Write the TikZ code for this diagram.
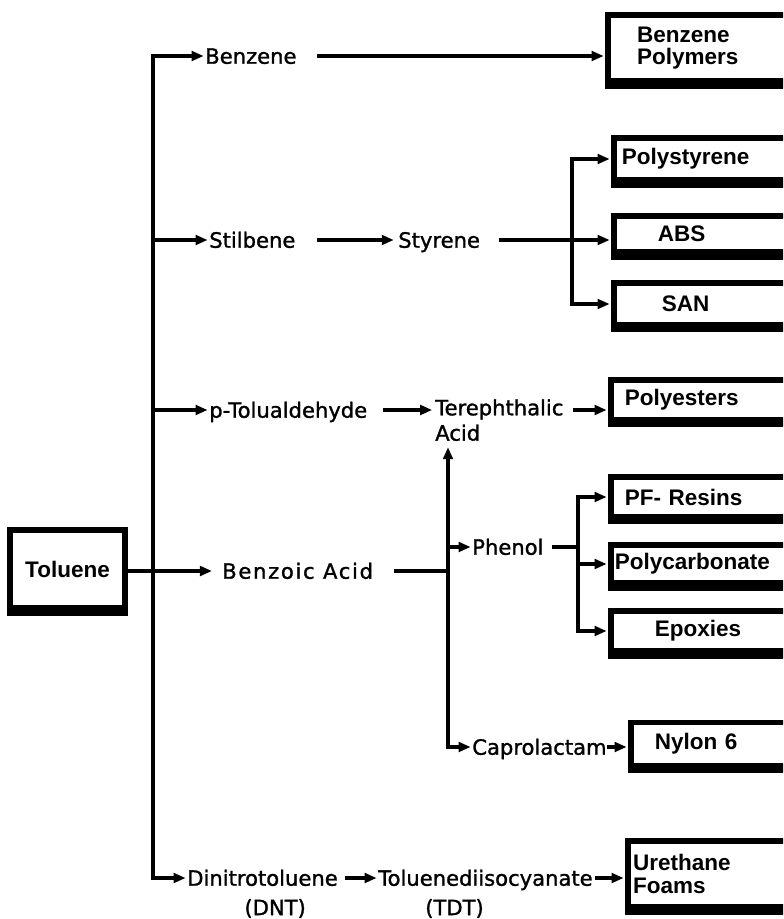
\documentclass[tikz,border=0pt]{standalone}
\usepackage{fontspec}
\setmainfont{DejaVu Sans}
\newfontfamily\flowfont{DejaVu Sans}[FakeBold=1.3]
\newfontfamily\prodfont{Liberation Sans Bold}
\usepackage{tikz}
\usetikzlibrary{positioning, arrows.meta, calc}

\begin{document}
\begin{tikzpicture}[x=0.025cm, y=-0.025cm,
  chem/.style={font=\flowfont\fontsize{15}{18}\selectfont, inner sep=0pt, anchor=west,
               text height=11pt, text depth=0pt},
  prod/.style={draw, line width=0.14cm, fill=white, anchor=west, text width=4.5cm,
               align=left, inner ysep=0pt, font=\prodfont\fontsize{16}{16}\selectfont},
  flow/.style={line width=0.08cm, line cap=rect, shorten >=1pt,
               -{Triangle[length=0.3cm, width=0.24cm]}},
  link/.style={line width=0.08cm, line cap=rect}]
  \useasboundingbox (0,0) rectangle (783,919);
  \clip (0,0) rectangle (783,919);
  % start box
  \node[prod, text width=2.4cm, minimum width=2.885cm, minimum height=1.96cm, align=center] (tol) at (7,569) {Toluene};
  % end products
  \node[prod, minimum height=1.66cm, inner xsep=0.73cm] (bp) at (605,48) {Benzene\\Polymers};
  \node[prod, minimum height=1.06cm, inner xsep=0.2cm] (ps) at (611,159) {Polystyrene};
  \node[prod, minimum height=0.91cm, inner xsep=1.1cm] (abs) at (611,234) {ABS};
  \node[prod, minimum height=1.035cm, inner xsep=1.2cm] (san) at (611,304) {SAN};
  \node[prod, minimum height=0.985cm, inner xsep=0.35cm] (pe) at (608,400) {Polyesters};
  \node[prod, minimum height=0.985cm, inner xsep=0.35cm] (pf) at (608,497) {PF- Resins};
  \node[prod, minimum height=0.96cm, inner xsep=0.1cm] (pc) at (608,564) {Polycarbonate};
  \node[prod, minimum height=1.01cm, inner xsep=1.1cm] (ep) at (608,631) {Epoxies};
  \node[prod, minimum height=1.085cm, inner xsep=0.6cm] (ny) at (628,744) {Nylon 6};
  \node[prod, minimum height=1.66cm, inner xsep=0.13cm] (uf) at (625,874) {Urethane\\Foams};
  \foreach \b in {tol,bp,ps,abs,san,pe,pf,pc,ep,ny,uf}
    \fill (\b.south west) rectangle ([yshift=-0.12cm]\b.south east);
  % intermediates
  \node[chem] (benz) at (205,56) {Benzene};
  \node[chem] (stil) at (209,240) {Stilbene};
  \node[chem] (sty) at (398,240) {Styrene};
  \node[chem] (ptol) at (209,410) {p-Tolualdehyde};
  \node[chem, anchor=north west, align=left, text height={}, text depth={}] (tere) at (435,399) {Terephthalic\\Acid};
  \node[chem] (benzac) at (222,571) {\addfontfeature{LetterSpace=8}Benzoic Acid};
  \node[chem] (phen) at (472,547) {Phenol};
  \node[chem] (capro) at (472,747) {Caprolactam};
  \node[chem] (dnt) at (187,878) {Dinitrotoluene};
  \node[chem, below=9.5pt of dnt, xshift=9pt] (dntab) {(DNT)};
  \node[chem] (tdi) at (378,878) {Toluenediisocyanate};
  \node[chem, below=9.5pt of tdi, xshift=-22pt] (tdiab) {(TDT)};
  % trunk
  \coordinate (trunk) at (153,0);
  \draw[flow] (trunk |- dnt.west) -- (trunk |- benz.west) -- (benz.west);
  \draw[flow] (trunk |- dnt.west) -- (dnt.west);
  \foreach \n in {stil,ptol}
    \draw[flow] (trunk |- \n.west) -- (\n.west);
  \draw[flow, shorten >=0.25cm] (tol.east |- benzac.west) -- (benzac.west);
  % top rows
  \draw[flow, shorten <=0.55cm] (benz.east) -- (benz.east -| bp.west);
  \draw[flow, shorten <=0.58cm, shorten >=3pt] (stil.east) -- (sty.west);
  \draw[flow, shorten <=0.5cm] (sty.east) -- (sty.east -| abs.west);
  \coordinate (styx) at (572,0);
  \draw[link] (styx |- ps) -- (styx |- san);
  \draw[flow] (styx |- ps) -- (ps);
  \draw[flow] (styx |- san) -- (san);
  \draw[flow, shorten <=0.42cm, shorten >=2pt] (ptol.east) -- (ptol.east -| tere.west);
  \draw[flow, shorten <=0.28cm] (tere.east |- ptol.east) -- (ptol.east -| pe.west);
  % benzoic acid branch
  \coordinate (jn) at (448,0);
  \draw[link, shorten <=0.55cm] (benzac.east) -- (jn |- benzac.east);
  \draw[flow, shorten >=0.15cm] (jn |- capro.west) -- (jn |- tere.south);
  \draw[flow] (jn |- phen.west) -- (phen.west);
  \draw[flow] (jn |- capro.west) -- (capro.west);
  \coordinate (phx) at (578,0);
  \draw[link, shorten <=0.25cm] (phen.east) -- (phx |- phen.east);
  \draw[link] (phx |- pf) -- (phx |- ep);
  \foreach \b in {pf,pc,ep}
    \draw[flow] (phx |- \b) -- (\b);
  \draw[flow, shorten <=0.05cm] (capro.east) -- (capro.east -| ny.west);
  % bottom row
  \draw[flow, shorten <=0.22cm] (dnt.east) -- (tdi.west);
  \draw[flow, shorten <=0.1cm] (tdi.east) -- (tdi.east -| uf.west);
\end{tikzpicture}
\end{document}
